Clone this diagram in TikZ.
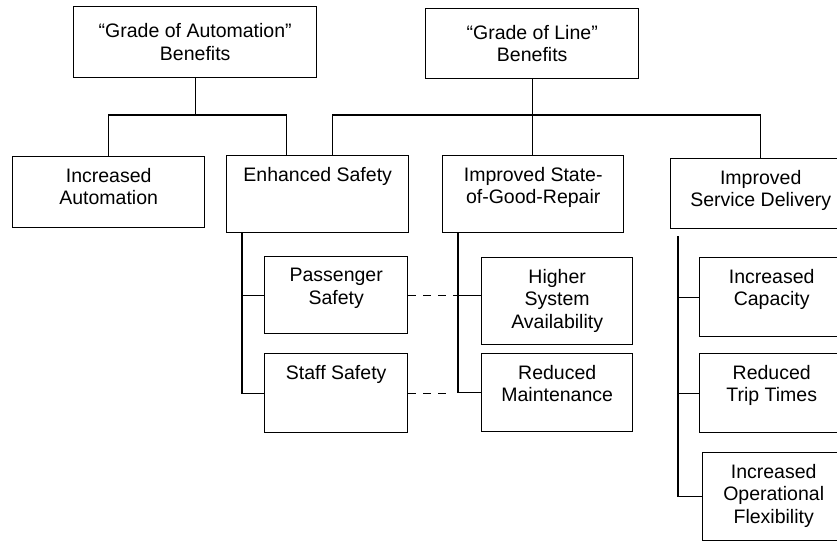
\documentclass[tikz,border=0pt]{standalone}
\usepackage{fontspec}
\setmainfont{Liberation Sans}
\begin{document}
\begin{tikzpicture}[x=1pt,y=-1pt,font=\fontsize{19.5}{22.5}\selectfont,
  box/.style={draw,line width=1.4pt,anchor=north west,inner sep=0pt,align=center},
  lbl/.style={anchor=north,align=center,inner ysep=12pt},
  wire/.style={line width=1.4pt},
  dashline/.style={wire,dash pattern=on 8pt off 7pt}]
\useasboundingbox (0,0) rectangle (837,541);
% top level
\node[box,minimum width=243pt,minimum height=71pt] (goa) at (73,6) {“Grade of Automation”\\Benefits};
\node[box,minimum width=213pt,minimum height=70pt] (gol) at (425,8) {“Grade of Line”\\Benefits};
% second level
\node[box,minimum width=192pt,minimum height=71pt,label={[lbl]north:{Increased\\Automation}}] (ia) at (12,156) {};
\node[box,minimum width=182pt,minimum height=77pt,label={[lbl]north:{Enhanced Safety}}] (es) at (226,155) {};
\node[box,minimum width=181pt,minimum height=77pt,label={[lbl]north:{Improved State-\\of-Good-Repair}}] (sogr) at (442,155) {};
\node[box,minimum width=180pt,minimum height=70pt,label={[lbl]north:{Improved\\Service Delivery}}] (isd) at (670,158) {};
% third level
\node[box,minimum width=143pt,minimum height=77pt,label={[lbl]north:{Passenger\\Safety}}] (ps) at (264,256) {};
\node[box,minimum width=143pt,minimum height=79pt,label={[lbl]north:{Staff Safety}}] (ss) at (264,353) {};
\node[box,minimum width=151pt,minimum height=87pt,label={[lbl]north:{Higher\\System\\Availability}}] (hsa) at (481,257) {};
\node[box,minimum width=151pt,minimum height=78pt,label={[lbl]north:{Reduced\\Maintenance}}] (rm) at (481,353) {};
\node[box,minimum width=144pt,minimum height=79pt,label={[lbl]north:{Increased\\Capacity}}] (ic) at (699,257) {};
\node[box,minimum width=144pt,minimum height=79pt,label={[lbl]north:{Reduced\\Trip Times}}] (rtt) at (699,353) {};
\node[box,minimum width=142pt,minimum height=88pt,label={[lbl]north:{Increased\\Operational\\Flexibility}}] (iof) at (702,452) {};
% buses
\coordinate (bus) at (0,115);
\draw[wire] (ia.north) |- (goa.south |- bus) -| ([xshift=-31pt]es.north);
\draw[wire] (goa.south) -- (goa.south |- bus);
\draw[wire] ([xshift=15pt]es.north) |- (gol.south |- bus) -| (isd.north);
\draw[wire] (gol.south) -- (gol.south |- sogr.north);
% side branches
\coordinate (esT) at ([xshift=16pt]es.south west);
\coordinate (sogrT) at ([xshift=16pt]sogr.south west);
\coordinate (isdT) at ([xshift=8pt,yshift=-7pt]isd.south west);
\draw[wire] (esT) |- (ss.west);
\draw[wire] (ps.west -| esT) -- (ps.west);
\draw[wire] (sogrT) |- (rm.west);
\draw[wire] (ps.east -| sogrT) -- (ps.east -| hsa.west);
\draw[wire] (isdT) |- (iof.west);
\draw[wire] (ic.west -| isdT) -- (ic.west);
\draw[wire] (rtt.west -| isdT) -- (rtt.west);
% dashed links
\draw[dashline] (ps.east) -- (ps.east -| sogrT);
\draw[dashline] (ss.east) -- ([xshift=-5pt]ss.east -| sogrT);
\end{tikzpicture}
\end{document}
